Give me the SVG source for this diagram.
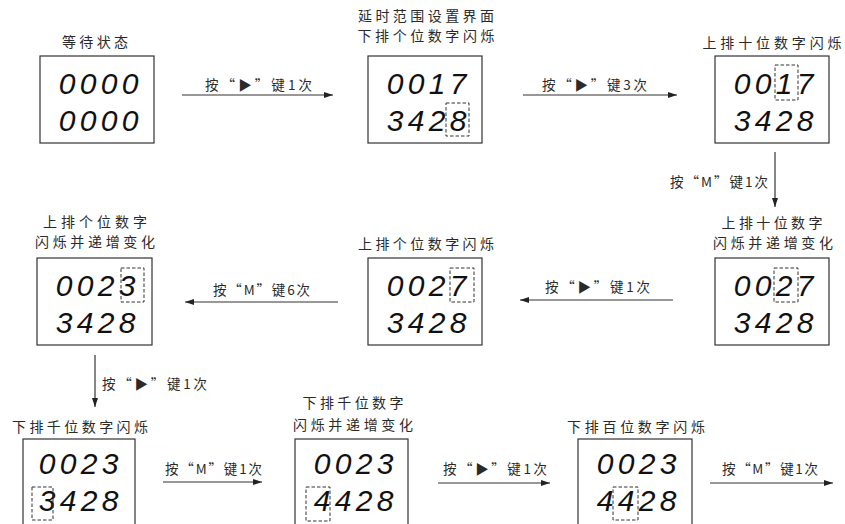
<svg xmlns="http://www.w3.org/2000/svg" width="845" height="524" viewBox="0 0 845 524">
<defs>
<style>
.box{fill:#fff;stroke:#333;stroke-width:1.2}
.dash{fill:none;stroke:#333;stroke-width:1;stroke-dasharray:3.5 2}
.d{font-family:"Liberation Sans",Arial,sans-serif;font-style:italic;font-size:30px;fill:#111;text-anchor:middle}
.lb{font-family:"Noto Sans CJK SC",sans-serif;font-size:14px;fill:#2a2a2a;text-anchor:middle}
.al{font-family:"Noto Sans CJK SC",sans-serif;font-size:13.5px;fill:#2a2a2a;text-anchor:middle}
.ln{stroke:#333;stroke-width:1.2;fill:none;marker-end:url(#ah)}
</style>
<marker id="ah" markerUnits="userSpaceOnUse" markerWidth="10" markerHeight="8" refX="9" refY="4" orient="auto">
<path d="M0,1 L9,4 L0,7 Z" fill="#222"/>
</marker>
</defs>
<rect width="845" height="524" fill="#fff"/>

<g id="n1">
<text class="lb" x="95" y="46.5" textLength="66" lengthAdjust="spacing">等待状态</text>
<rect class="box" x="40" y="56" width="114" height="87"/>
<text class="d" x="67 88 109 130" y="94">0000</text>
<text class="d" x="67 88 109 130" y="131">0000</text>
</g>

<g id="n2">
<text class="lb" x="426" y="21" textLength="136" lengthAdjust="spacing">延时范围设置界面</text>
<text class="lb" x="426" y="41" textLength="137" lengthAdjust="spacing">下排个位数字闪烁</text>
<rect class="box" x="368" y="56" width="114" height="87"/>
<text class="d" x="395 416 437 458" y="94">0017</text>
<text class="d" x="395 416 437 458" y="131">3428</text>
<rect class="dash" x="446" y="103" width="23" height="33"/>
</g>

<g id="n3">
<text class="lb" x="772" y="47.5" textLength="139" lengthAdjust="spacing">上排十位数字闪烁</text>
<rect class="box" x="715" y="56" width="114" height="87"/>
<text class="d" x="742 763 784 805" y="94">0017</text>
<text class="d" x="742 763 784 805" y="131">3428</text>
<rect class="dash" x="775" y="65" width="23" height="35"/>
</g>

<g id="n4">
<text class="lb" x="95" y="227" textLength="104" lengthAdjust="spacing">上排个位数字</text>
<text class="lb" x="95" y="247" textLength="120" lengthAdjust="spacing">闪烁并递增变化</text>
<rect class="box" x="37" y="258" width="115" height="87"/>
<text class="d" x="64 85 106 127" y="296">0023</text>
<text class="d" x="64 85 106 127" y="333">3428</text>
<rect class="dash" x="121" y="268" width="23" height="34"/>
</g>

<g id="n5">
<text class="lb" x="426" y="248.5" textLength="136" lengthAdjust="spacing">上排个位数字闪烁</text>
<rect class="box" x="368" y="258" width="114" height="87"/>
<text class="d" x="395 416 437 458" y="296">0027</text>
<text class="d" x="395 416 437 458" y="333">3428</text>
<rect class="dash" x="450" y="268" width="24" height="34"/>
</g>

<g id="n6">
<text class="lb" x="772" y="227.5" textLength="101" lengthAdjust="spacing">上排十位数字</text>
<text class="lb" x="773" y="248" textLength="120" lengthAdjust="spacing">闪烁并递增变化</text>
<rect class="box" x="715" y="258" width="114" height="87"/>
<text class="d" x="742 763 784 805" y="296">0027</text>
<text class="d" x="742 763 784 805" y="333">3428</text>
<rect class="dash" x="774" y="268" width="24" height="34"/>
</g>

<g id="n7">
<text class="lb" x="80" y="431.5" textLength="136" lengthAdjust="spacing">下排千位数字闪烁</text>
<rect class="box" x="23" y="439" width="112" height="100"/>
<text class="d" x="47 68 89 110" y="474">0023</text>
<text class="d" x="47 68 89 110" y="511">3428</text>
<rect class="dash" x="32" y="487" width="21" height="33"/>
</g>

<g id="n8">
<text class="lb" x="353" y="407.5" textLength="101" lengthAdjust="spacing">下排千位数字</text>
<text class="lb" x="353" y="429.5" textLength="120" lengthAdjust="spacing">闪烁并递增变化</text>
<rect class="box" x="295" y="439" width="113" height="100"/>
<text class="d" x="322 343 364 385" y="474">0023</text>
<text class="d" x="322 343 364 385" y="511">4428</text>
<rect class="dash" x="306" y="487" width="24" height="34"/>
</g>

<g id="n9">
<text class="lb" x="636" y="431.5" textLength="138" lengthAdjust="spacing">下排百位数字闪烁</text>
<rect class="box" x="578" y="439" width="114" height="100"/>
<text class="d" x="605 626 647 668" y="474">0023</text>
<text class="d" x="605 626 647 668" y="511">4428</text>
<rect class="dash" x="613" y="487" width="25" height="33"/>
</g>

<g id="connectors">
<line class="ln" x1="182" y1="95" x2="333" y2="95"/>
<text class="al" x="258.5" y="89.5" textLength="107" lengthAdjust="spacing">按“▶”键1次</text>
<line class="ln" x1="523" y1="95" x2="677" y2="95"/>
<text class="al" x="594.5" y="89.5" textLength="105" lengthAdjust="spacing">按“▶”键3次</text>
<line class="ln" x1="775" y1="152" x2="775" y2="207"/>
<text class="al" x="719" y="186.5" textLength="98" lengthAdjust="spacing">按“M”键1次</text>
<line class="ln" x1="673" y1="300" x2="520" y2="300"/>
<text class="al" x="597.5" y="292" textLength="105" lengthAdjust="spacing">按“▶”键1次</text>
<line class="ln" x1="338" y1="302" x2="185" y2="302"/>
<text class="al" x="261.5" y="295" textLength="97" lengthAdjust="spacing">按“M”键6次</text>
<line class="ln" x1="95" y1="355" x2="95" y2="407"/>
<text class="al" x="154.5" y="389" textLength="105" lengthAdjust="spacing">按“▶”键1次</text>
<line class="ln" x1="163" y1="482" x2="262" y2="482"/>
<text class="al" x="213.5" y="474" textLength="97" lengthAdjust="spacing">按“M”键1次</text>
<line class="ln" x1="438" y1="483" x2="550" y2="483"/>
<text class="al" x="495" y="474" textLength="104" lengthAdjust="spacing">按“▶”键1次</text>
<line class="ln" x1="710" y1="483" x2="833" y2="483"/>
<text class="al" x="770" y="474" textLength="96" lengthAdjust="spacing">按“M”键1次</text>
</g>
</svg>
